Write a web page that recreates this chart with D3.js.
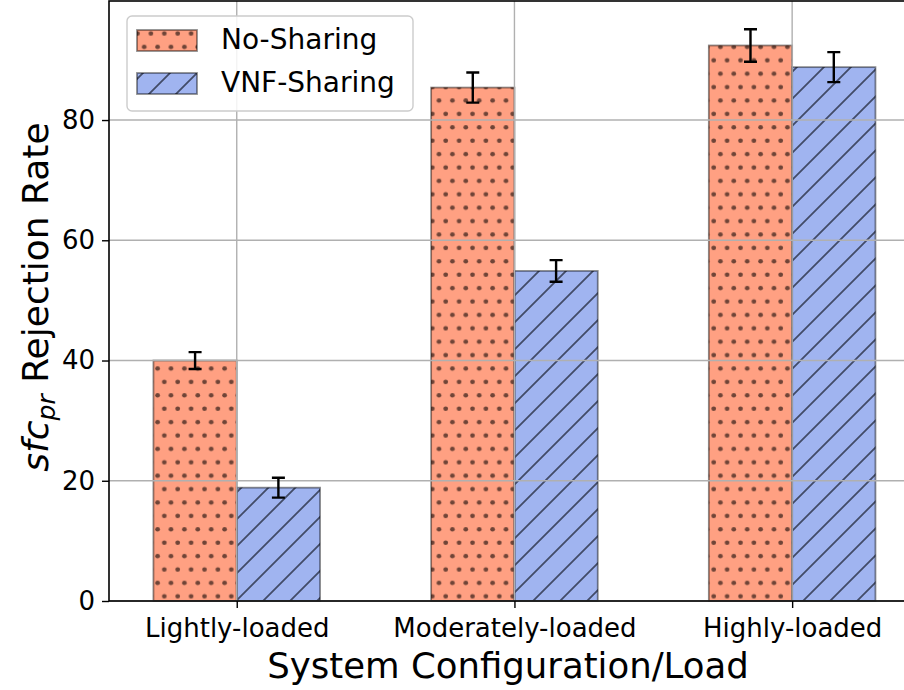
<!DOCTYPE html>
<html>
<head>
<meta charset="utf-8">
<script src="https://cdn.jsdelivr.net/npm/d3@7"></script>
<style>
  body { margin: 0; background: #fff; }
  svg { display: block; font-family: "DejaVu Sans", sans-serif; }
</style>
</head>
<body>
<svg id="chart"></svg>
<script>
(() => {
let categories = ['Lightly-loaded', 'Moderately-loaded', 'Highly-loaded'];
let seriesNames = ['No-Sharing', 'VNF-Sharing'];
let noSharing = [40.0, 85.4, 92.4];
let noSharingErr = [1.4, 2.5, 2.7];
let vnfSharing = [18.85, 54.9, 88.8];
let vnfSharingErr = [1.65, 1.8, 2.5];
let yTicks = [0, 20, 40, 60, 80];

let svgWidth = 904,
    svgHeight = 690,
    left = 109,
    right = 906,
    top = 1,
    bottom = 601,
    barWidth = 0.3,
    tickFont = 26;

let svg = d3.select('#chart')
    .attr('width', svgWidth)
    .attr('height', svgHeight);

let xScale = d3.scaleLinear()
    .domain([-0.46, 2.41])
    .range([left, right]);

let yScale = d3.scaleLinear()
    .domain([0, 99.8])
    .range([bottom, top]);

// hatch patterns (absolute coords, like matplotlib)
let defs = svg.append('defs');
let dots = defs.append('pattern')
    .attr('id', 'dots')
    .attr('patternUnits', 'userSpaceOnUse')
    .attr('width', 13.4)
    .attr('height', 26.8);
dots.append('circle').attr('cx', 3.5).attr('cy', 6.7).attr('r', 2.35).attr('fill', '#6f4437');
dots.append('circle').attr('cx', 10.2).attr('cy', 20.1).attr('r', 2.35).attr('fill', '#6f4437');

let diag = defs.append('pattern')
    .attr('id', 'diag')
    .attr('patternUnits', 'userSpaceOnUse')
    .attr('width', 27)
    .attr('height', 27);
diag.append('path')
    .attr('d', 'M0,27 L27,0 M-5,5 L5,-5 M22,32 L32,22')
    .attr('stroke', '#424b68')
    .attr('stroke-width', 1.8);

let styles = [
    { fill: '#ffa082', hatch: 'url(#dots)' },
    { fill: '#a0b4f0', hatch: 'url(#diag)' }
];

let rows = categories.map((c, i) => ({
    cat: c, i: i,
    vals: [
        { s: 0, v: noSharing[i], e: noSharingErr[i] },
        { s: 1, v: vnfSharing[i], e: vnfSharingErr[i] }
    ]
}));
let bars = rows.flatMap(r => r.vals.map(d => Object.assign({ i: r.i }, d)));
let barX = d => xScale(d.i - barWidth + d.s * barWidth);
let barW = xScale(barWidth) - xScale(0);

let barG = svg.append('g');
barG.selectAll('rect.fill')
    .data(bars)
    .enter()
    .append('rect')
    .attr('x', barX)
    .attr('y', d => yScale(d.v))
    .attr('width', barW)
    .attr('height', d => yScale(0) - yScale(d.v))
    .attr('fill', d => styles[d.s].fill);
barG.selectAll('rect.hatch')
    .data(bars)
    .enter()
    .append('rect')
    .attr('x', barX)
    .attr('y', d => yScale(d.v))
    .attr('width', barW)
    .attr('height', d => yScale(0) - yScale(d.v))
    .attr('fill', d => styles[d.s].hatch)
    .attr('stroke', '#000')
    .attr('stroke-opacity', 0.45)
    .attr('stroke-width', 1.8);

// grid (drawn over the bars, as matplotlib does)
let grid = svg.append('g')
    .attr('stroke', '#b0b0b0')
    .attr('stroke-width', 1.4);
grid.selectAll('line.h')
    .data(yTicks)
    .enter()
    .append('line')
    .attr('x1', left).attr('x2', right)
    .attr('y1', d => yScale(d)).attr('y2', d => yScale(d));
grid.selectAll('line.v')
    .data(categories)
    .enter()
    .append('line')
    .attr('x1', (d, i) => xScale(i)).attr('x2', (d, i) => xScale(i))
    .attr('y1', top).attr('y2', bottom);

// error bars
let err = svg.append('g')
    .attr('stroke', '#000')
    .attr('stroke-width', 2.4);
err.selectAll('path')
    .data(bars)
    .enter()
    .append('path')
    .attr('fill', 'none')
    .attr('d', d => {
        let cx = barX(d) + barW / 2,
            y1 = yScale(d.v + d.e),
            y2 = yScale(d.v - d.e);
        return `M${cx},${y1}V${y2}M${cx - 6.5},${y1}H${cx + 6.5}M${cx - 6.5},${y2}H${cx + 6.5}`;
    });

// axes
let yAxis = d3.axisLeft(yScale)
    .tickValues(yTicks)
    .tickSize(7)
    .tickPadding(7);
let xAxis = d3.axisBottom(xScale)
    .tickValues(categories.map((c, i) => i))
    .tickFormat(i => categories[i])
    .tickSize(7)
    .tickPadding(7);

let ya = svg.append('g')
    .attr('transform', `translate(${left},0)`)
    .call(yAxis);
let xa = svg.append('g')
    .attr('transform', `translate(0,${bottom})`)
    .call(xAxis);
[ya, xa].forEach(a => {
    a.select('.domain').remove();
    a.selectAll('.tick line').attr('stroke', '#000').attr('stroke-width', 1.4);
    a.selectAll('.tick text').attr('fill', '#000').attr('font-size', tickFont).attr('font-family', '"DejaVu Sans", sans-serif');
});
xa.selectAll('.tick text').attr('dy', null).attr('y', 36);

// frame
svg.append('rect')
    .attr('x', left).attr('y', top)
    .attr('width', right - left).attr('height', bottom - top)
    .attr('fill', 'none')
    .attr('stroke', '#000')
    .attr('stroke-width', 1.6);

// axis labels
svg.append('text')
    .attr('x', (left + 903) / 2 + 2)
    .attr('y', 678)
    .attr('text-anchor', 'middle')
    .attr('font-size', 35.5)
    .text('System Configuration/Load');

let yl = svg.append('text')
    .attr('transform', `translate(48,${(top + bottom) / 2 - 4}) rotate(-90)`)
    .attr('text-anchor', 'middle')
    .attr('font-size', 36);
yl.append('tspan').attr('font-style', 'italic').text('sfc');
yl.append('tspan').attr('font-style', 'italic').attr('font-size', 25).attr('dy', 7).text('pr');
yl.append('tspan').attr('dy', -7).text(' Rejection Rate');

// legend
let lg = svg.append('g');
lg.append('rect')
    .attr('x', 127).attr('y', 16)
    .attr('width', 286).attr('height', 95)
    .attr('rx', 5)
    .attr('fill', '#fff')
    .attr('fill-opacity', 0.85)
    .attr('stroke', '#cccccc')
    .attr('stroke-width', 1.4);
let items = lg.selectAll('g.item')
    .data(seriesNames)
    .enter()
    .append('g');
items.append('rect')
    .attr('x', 137).attr('y', (d, i) => 30 + i * 43)
    .attr('width', 60).attr('height', 21)
    .attr('fill', (d, i) => styles[i].fill);
items.append('rect')
    .attr('x', 137).attr('y', (d, i) => 30 + i * 43)
    .attr('width', 60).attr('height', 21)
    .attr('fill', (d, i) => styles[i].hatch)
    .attr('stroke', '#000')
    .attr('stroke-opacity', 0.45)
    .attr('stroke-width', 1.8);
items.append('text')
    .attr('x', 221).attr('y', (d, i) => 49 + i * 43)
    .attr('font-size', 28)
    .text(d => d);
})();
</script>
</body>
</html>
